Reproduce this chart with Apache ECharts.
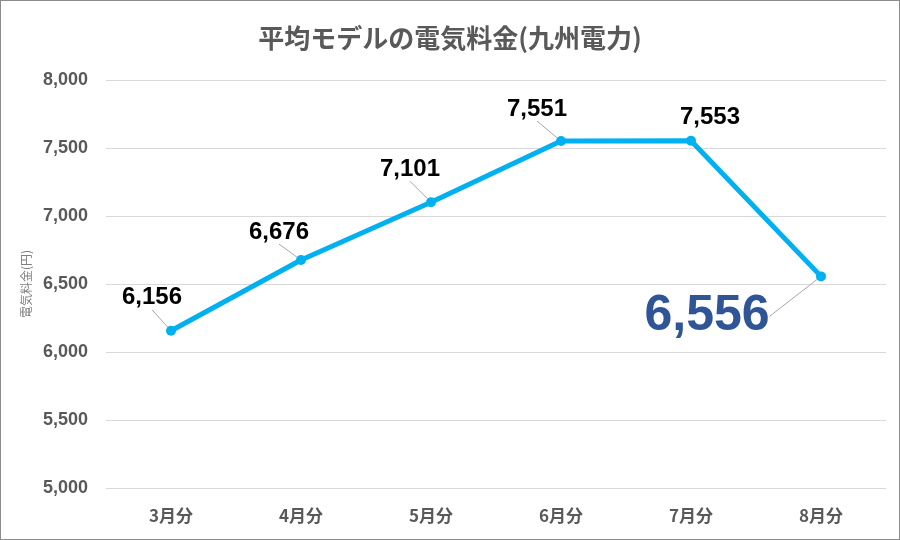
<!DOCTYPE html>
<html><head><meta charset="utf-8">
<script src="https://cdn.jsdelivr.net/npm/echarts@6/dist/echarts.min.js"></script>
<style>html,body{margin:0;padding:0;background:#fff}#c{width:898px;height:538px;border:1px solid #8c8c8c}</style>
</head><body><div id="c"></div>
<script>
const categories = ['3月分','4月分','5月分','6月分','7月分','8月分'];
const values = [6156, 6676, 7101, 7551, 7553, 6556];
const yTicks = [5000, 5500, 6000, 6500, 7000, 7500, 8000];
const labelShift = [[-19,-11],[-22,-6],[-21,-11],[-24,-10],[19,-1],[-114,75]];
const FONT = '"Liberation Sans", "Noto Sans CJK JP", sans-serif';
const chart = echarts.init(document.getElementById('c'), null, {renderer:'canvas'});
chart.setOption({
  animation:false,
  title:{text:'平均モデルの電気料金(九州電力)',left:'center',top:19,
    textStyle:{fontFamily:'"Noto Sans CJK JP", sans-serif',fontSize:26,fontWeight:'bold',color:'#595959'}},
  grid:{left:105,right:13,top:79,bottom:51},
  xAxis:{type:'category',data:categories,boundaryGap:true,
    axisLine:{show:true,lineStyle:{color:'#d9d9d9'}},axisTick:{show:false},
    axisLabel:{margin:19,fontFamily:'"Noto Sans CJK JP", sans-serif',fontSize:17,fontWeight:'bold',color:'#595959'}},
  yAxis:{type:'value',min:yTicks[0],max:yTicks[yTicks.length-1],interval:500,
    name:'電気料金(円)',nameLocation:'middle',nameGap:72,nameRotate:90,
    nameTextStyle:{fontFamily:'"Noto Sans CJK JP", sans-serif',fontSize:12,color:'#7f7f7f'},
    axisLine:{show:false},axisTick:{show:false},
    splitLine:{lineStyle:{color:'#d9d9d9'}},
    axisLabel:{margin:18,fontFamily:FONT,fontSize:18,fontWeight:'bold',color:'#595959',
      formatter:v=>v.toLocaleString('en-US')}},
  series:[{type:'line',
    data:values.map((v,i)=> i===values.length-1 ? {value:v,label:{fontSize:50,color:'#2F5597'}}
                          : (i===4 ? {value:v,labelLine:{show:false}} : v)),
    lineStyle:{color:'#00B0F0',width:5},
    itemStyle:{color:'#00B0F0'},
    symbol:'circle',symbolSize:10,
    label:{show:true,position:'top',distance:5,fontFamily:FONT,fontSize:24,fontWeight:'bold',color:'#000',
      formatter:p=>p.value.toLocaleString('en-US')},
    labelLine:{show:true,lineStyle:{color:'#a6a6a6',width:1}},
    labelLayout:function(p){const s=labelShift[p.dataIndex];return {dx:s[0],dy:s[1],hideOverlap:false};}
  }]
});
</script></body></html>
